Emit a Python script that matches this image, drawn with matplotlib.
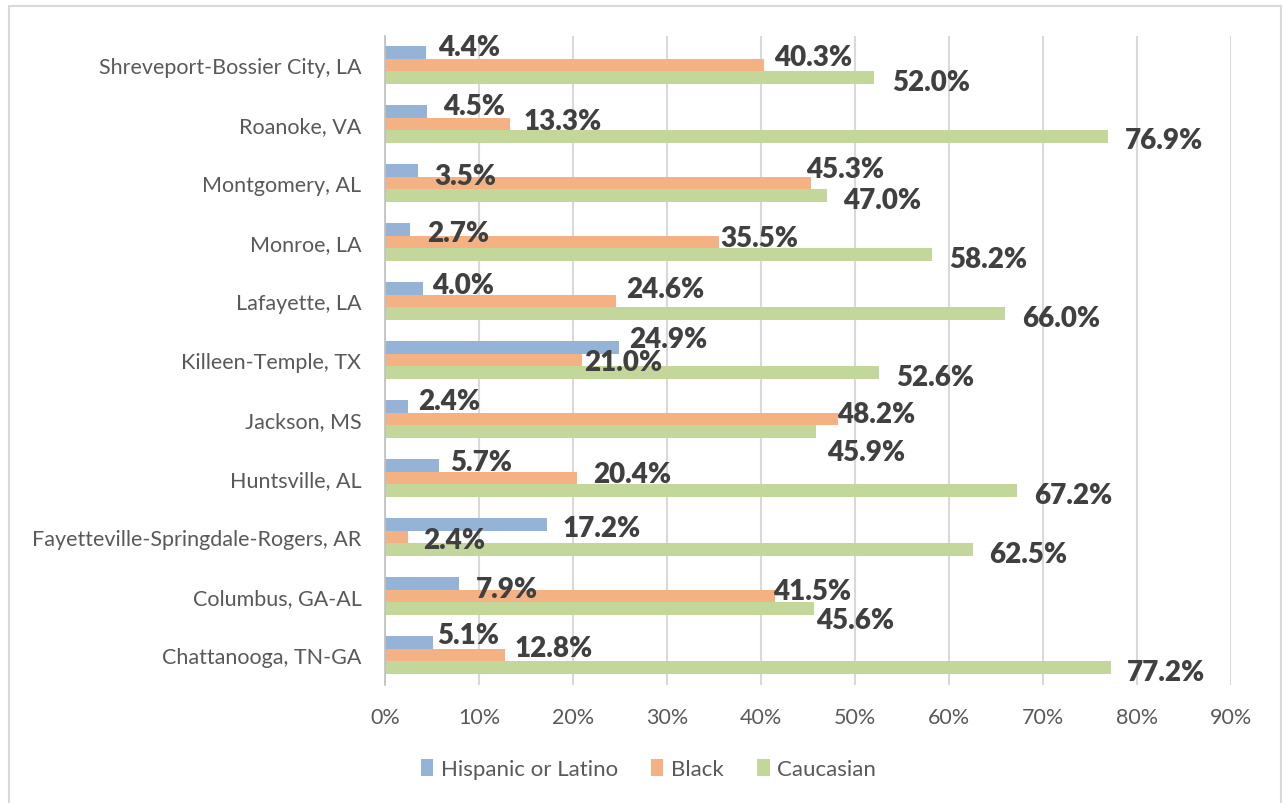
import numpy as np
import matplotlib
matplotlib.use("Agg")
import matplotlib.pyplot as plt
from matplotlib.patches import Patch, Rectangle

plt.rcParams['font.family'] = ['Lato', 'DejaVu Sans']

# data, top to bottom as in the chart
metros = ["Shreveport-Bossier City, LA", "Roanoke, VA", "Montgomery, AL", "Monroe, LA",
          "Lafayette, LA", "Killeen-Temple, TX", "Jackson, MS", "Huntsville, AL",
          "Fayetteville-Springdale-Rogers, AR", "Columbus, GA-AL", "Chattanooga, TN-GA"]
hispanic = [4.4, 4.5, 3.5, 2.7, 4.0, 24.9, 2.4, 5.7, 17.2, 7.9, 5.1]
black = [40.3, 13.3, 45.3, 35.5, 24.6, 21.0, 48.2, 20.4, 2.4, 41.5, 12.8]
caucasian = [52.0, 76.9, 47.0, 58.2, 66.0, 52.6, 45.9, 67.2, 62.5, 45.6, 77.2]
series_names = ["Hispanic or Latino", "Black", "Caucasian"]
xticks = [0, 10, 20, 30, 40, 50, 60, 70, 80, 90]

colors = ["#95b3d7", "#f4b183", "#c4d79b"]
txt = "#595959"

# label nudges in pixels (dx from bar end, dy of text centre below bar centre)
lab_dx = [[12, 16, 16, 17, 9, 10, 11, 12, 16, 17, 4],
          [10, 14, -5, 2, 10, 2, -1, 16, 16, -2, 9],
          [18, 17, 16, 17, 17, 17, 11, 17, 17, 2, 16]]
lab_dy = [[-7, -7, 4, 2, -5, -10, -7, -5, 2, 4, -9],
          [-10, -5, -16, -6, -14, 0, -7, -6, 1, -7, -9],
          [2, 1, 2, 2, 2, 2, 18, 2, 2, 9, 2]]

fig = plt.figure(figsize=(12.83, 8.04), dpi=100)
ax = fig.add_axes([385 / 1283, 1 - 685.5 / 804, (1231 - 385) / 1283, (685.5 - 36.5) / 804])

y = np.arange(len(metros))
h = 0.212
for k, vals in enumerate([hispanic, black, caucasian]):
    yb = y + (k - 1) * h
    ax.barh(yb, vals, height=h, color=colors[k], label=series_names[k], zorder=2)
    for i, v in enumerate(vals):
        ax.annotate(f"{v:.1f}%", xy=(v, yb[i]),
                    xytext=(lab_dx[k][i], -(lab_dy[k][i] + 10)), textcoords='offset pixels',
                    ha='left', va='baseline', fontsize=20, fontweight='heavy',
                    color="#404040", zorder=3)

ax.set_xlim(0, 90)
ax.set_ylim(len(metros) - 0.5, -0.5)
ax.set_xticks(xticks)
ax.set_xticklabels([f"{t}%" for t in xticks])
ax.set_yticks(y)
ax.set_yticklabels(metros)
ax.tick_params(axis='both', length=0, labelsize=15.5, colors=txt)
ax.tick_params(axis='y', pad=17)
ax.tick_params(axis='x', pad=16)
ax.grid(axis='x', color="#d9d9d9", linewidth=1.5, zorder=0)
for s in ["top", "right", "bottom"]:
    ax.spines[s].set_visible(False)
ax.spines["left"].set_color("#bfbfbf")
ax.spines["left"].set_linewidth(1.2)

handles = [Patch(facecolor=c) for c in colors]
fig.legend(handles, series_names, loc='center', bbox_to_anchor=(648.5 / 1283, 1 - 770 / 804),
           ncol=3, frameon=False, fontsize=16, labelcolor=txt,
           handlelength=0.55, handleheight=0.8, handletextpad=0.35, columnspacing=1.5)

fig.patches.append(Rectangle((9 / 1283, -0.02), 1272 / 1283, 1.02 - 7 / 804,
                             transform=fig.transFigure, fill=False,
                             edgecolor="#d9d9d9", linewidth=1.5))

fig.savefig("out.png", dpi=100)
